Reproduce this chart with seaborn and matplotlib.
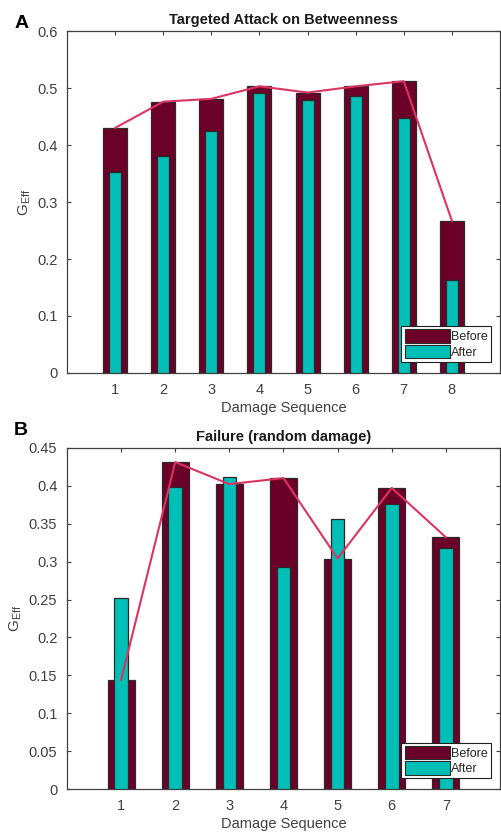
import matplotlib
matplotlib.use("Agg")
import matplotlib.pyplot as plt
from matplotlib.patches import Patch
import seaborn as sns
import pandas as pd

# ---- data ----
seq_a = [1, 2, 3, 4, 5, 6, 7, 8]
before_a = [0.430, 0.476, 0.481, 0.503, 0.492, 0.503, 0.512, 0.267]
after_a = [0.353, 0.381, 0.425, 0.491, 0.479, 0.486, 0.448, 0.164]

seq_b = [1, 2, 3, 4, 5, 6, 7]
before_b = [0.144, 0.431, 0.402, 0.410, 0.304, 0.397, 0.332]
after_b = [0.252, 0.398, 0.412, 0.293, 0.356, 0.376, 0.318]

title_a = "Targeted Attack on Betweenness"
title_b = "Failure (random damage)"
xlabel = "Damage Sequence"
ylabel = r"G$_{\mathrm{Eff}}$"
legend_labels = ["Before", "After"]

C_BEFORE = "#6b0028"
C_AFTER = "#00bfb6"
C_LINE = "#dc3462"
C_EDGE = "#2a2a2a"
C_AXIS = "#404040"

sns.set_theme(style="white")
plt.rcParams["font.family"] = ["Liberation Sans", "DejaVu Sans"]
plt.rcParams["mathtext.fontset"] = "custom"
plt.rcParams["mathtext.rm"] = "Liberation Sans"

fig = plt.figure(figsize=(5.01, 8.32), dpi=100)
ax_a = fig.add_axes([0.1337, 0.5517, 0.8643, 0.4110])
ax_b = fig.add_axes([0.1337, 0.0513, 0.8643, 0.4106])


def draw(ax, seq, before, after, title, ylim, yticks, yticklabels, xlim):
    df = pd.DataFrame({"seq": seq, "before": before, "after": after})
    sns.barplot(data=df, x="seq", y="before", native_scale=True, width=0.5,
                color=C_BEFORE, saturation=1, edgecolor=C_EDGE, linewidth=0.9,
                ax=ax, zorder=2)
    sns.barplot(data=df, x="seq", y="after", native_scale=True, width=0.25,
                color=C_AFTER, saturation=1, edgecolor=C_EDGE, linewidth=0.9,
                ax=ax, zorder=3)
    sns.lineplot(data=df, x="seq", y="before", color=C_LINE, linewidth=1.5,
                 ax=ax, zorder=4)
    ax.set_xlim(*xlim)
    ax.set_ylim(*ylim)
    ax.set_xticks(seq)
    ax.set_xticklabels([str(s) for s in seq])
    ax.set_yticks(yticks)
    ax.set_yticklabels(yticklabels)
    ax.tick_params(axis="both", which="both", direction="in", length=3,
                   width=0.8, colors=C_AXIS, labelcolor="#404040",
                   labelsize=10.5, top=True, right=True, bottom=True, left=True,
                   pad=7)
    for sp in ax.spines.values():
        sp.set_visible(True)
        sp.set_color(C_AXIS)
        sp.set_linewidth(0.9)
    ax.set_title(title, fontsize=10.5, fontweight="bold", color="#1a1a1a", pad=5)
    ax.set_xlabel(xlabel, fontsize=10.5, color="#404040", labelpad=3)
    ax.set_ylabel(ylabel, fontsize=11, color="#404040", labelpad=3)
    handles = [Patch(facecolor=C_BEFORE, edgecolor=C_EDGE, linewidth=0.8),
               Patch(facecolor=C_AFTER, edgecolor=C_EDGE, linewidth=0.8)]
    leg = ax.legend(handles, legend_labels, loc="lower right",
                    bbox_to_anchor=(0.98, 0.033), fontsize=9,
                    handlelength=3.6, handleheight=1.3, handletextpad=0.15,
                    labelspacing=0.1, borderpad=0.25, borderaxespad=0,
                    frameon=True, fancybox=False, framealpha=1)
    leg.get_frame().set_edgecolor("#202020")
    leg.get_frame().set_linewidth(0.8)


draw(ax_a, seq_a, before_a, after_a, title_a, (0, 0.6),
     [0, 0.1, 0.2, 0.3, 0.4, 0.5, 0.6],
     ["0", "0.1", "0.2", "0.3", "0.4", "0.5", "0.6"], (0, 9))
draw(ax_b, seq_b, before_b, after_b, title_b, (0, 0.45),
     [0, 0.05, 0.1, 0.15, 0.2, 0.25, 0.3, 0.35, 0.4, 0.45],
     ["0", "0.05", "0.1", "0.15", "0.2", "0.25", "0.3", "0.35", "0.4", "0.45"],
     (0, 8))

fig.text(0.028, 0.972, "A", fontsize=14, fontweight="bold", color="black",
         ha="left", va="center")
fig.text(0.028, 0.482, "B", fontsize=14, fontweight="bold", color="black",
         ha="left", va="center")

fig.savefig("out.png", dpi=100)
